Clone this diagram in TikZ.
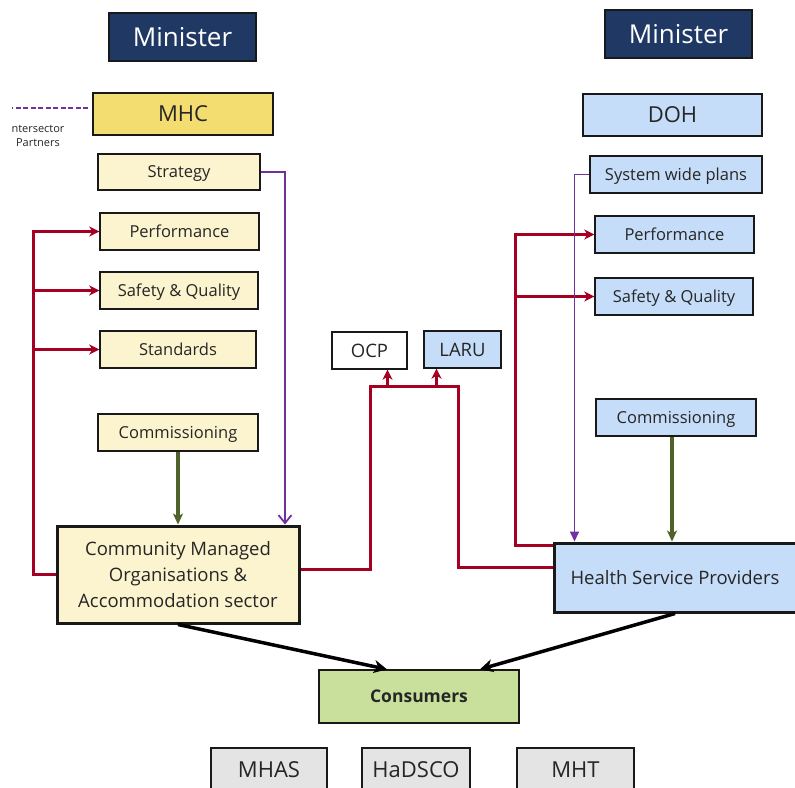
\documentclass[tikz,border=0pt]{standalone}
\usepackage{fontspec}
\setmainfont{Open Sans}
\usetikzlibrary{arrows.meta}
\definecolor{minnavy}{RGB}{32,56,100}
\definecolor{mhcgold}{RGB}{243,220,112}
\definecolor{mhccream}{RGB}{252,243,207}
\definecolor{dohblue}{RGB}{197,221,248}
\definecolor{consgreen}{RGB}{201,224,156}
\definecolor{advgray}{RGB}{228,228,228}
\definecolor{linkred}{RGB}{165,0,33}
\definecolor{linkpurple}{RGB}{112,48,160}
\definecolor{linkolive}{RGB}{79,98,40}
\newcommand{\fsz}[1]{\fontsize{#1}{#1}\selectfont}

\begin{document}
\begin{tikzpicture}[x=1pt,y=-1pt,
  fs/.style={font=\fsz{#1}, text height={0.72*#1pt}, text depth=0pt},
  box/.style={draw=black!90, line width=1.4pt, inner sep=0pt, text=black!85,
    minimum height=37pt, fs=16.5},
  bigbox/.style={box, line width=3pt, fs=18.5},
  minbox/.style={box, fill=minnavy, text=white, minimum width=147pt,
    minimum height=48pt, fs=26},
  redln/.style={draw=linkred, line width=3pt},
  redarr/.style={redln, -{Stealth[length=10pt,width=10pt,inset=3pt]}},
  purpln/.style={draw=linkpurple, line width=1.8pt},
  oliveln/.style={draw=linkolive, line width=3.2pt,
    -{Stealth[length=11pt,width=10pt,inset=3pt]}},
  blackln/.style={draw=black, line width=3.5pt,
    -{Stealth[length=13pt,width=13pt,inset=4pt]}}]
  \useasboundingbox (0,0) rectangle (795,787);
  \clip (0,0) rectangle (795,787);

  % left side
  \node[minbox] (minl) at (182.5,37) {Minister};
  \node[box, fill=mhcgold, minimum width=180pt, minimum height=42pt,
    fs=22] (mhc) at (183,114) {MHC};
  \node[box, fill=mhccream, minimum width=162pt, minimum height=36pt] (strat) at (179,172) {Strategy};
  \node[box, fill=mhccream, minimum width=159pt] (perfl) at (179.5,231.5) {Performance};
  \node[box, fill=mhccream, minimum width=158pt] (sql) at (179,290.5) {Safety \& Quality};
  \node[box, fill=mhccream, minimum width=156pt] (std) at (178,349.5) {Standards};
  \node[box, fill=mhccream, minimum width=160pt] (coml) at (178,432.5) {Commissioning};
  \node[bigbox, fill=mhccream, minimum width=242pt, minimum height=97pt,
    text height=, text depth=, font=\fontsize{18.5}{26}\selectfont,
    align=center] (cmo) at (178,574.5)
    {Community Managed\\Organisations \&\\Accommodation sector};

  \node[font=\fontsize{11}{14}\selectfont, text=black!85, align=center,
    inner sep=0pt] (isp) at (38,136) {ntersector\\Partners};
  \coordinate (ispend) at (12,108);

  % right side
  \node[minbox] (minr) at (678.5,34) {Minister};
  \node[box, fill=dohblue, minimum width=179pt, minimum height=42pt,
    fs=22] (doh) at (672.5,115) {DOH};
  \node[box, fill=dohblue, minimum width=172pt] (swp) at (676,174.5) {System wide plans};
  \node[box, fill=dohblue, minimum width=159pt] (perfr) at (674.5,234.5) {Performance};
  \node[box, fill=dohblue, minimum width=158pt] (sqr) at (674,296.5) {Safety \& Quality};
  \node[box, fill=dohblue, minimum width=160pt] (comr) at (676,417.5) {Commissioning};
  \node[bigbox, fill=dohblue, minimum width=242pt, minimum height=69pt] (hsp) at (675,577.5)
    {Health Service Providers};

  % middle
  \node[box, fill=white, minimum width=75pt, fs=18.5] (ocp) at (369.5,350.5) {OCP};
  \node[box, fill=dohblue, minimum width=77pt, fs=18.5] (laru) at (462.5,349.5) {LARU};
  \node[box, fill=consgreen, minimum width=200pt, minimum height=53pt,
    fs=17.5, font=\bfseries\fsz{17.5}] (cons) at (419,696.5) {Consumers};
  \node[box, fill=advgray, minimum width=116pt, minimum height=44pt, fs=22] (mhas) at (269,770) {MHAS};
  \node[box, fill=advgray, minimum width=108pt, minimum height=44pt, fs=22] (hadsco) at (416,770) {HaDSCO};
  \node[box, fill=advgray, minimum width=117pt, minimum height=44pt, fs=22] (mht) at (575.5,770) {MHT};

  \coordinate (lbus) at (33,0);
  \coordinate (rbus) at (515,0);
  \coordinate (jl) at (370,386);
  \coordinate (jr) at (458,386);

  \draw[draw=linkpurple, line width=1.6pt, dash pattern=on 5pt off 2.5pt]
    ([xshift=-4pt,yshift=6pt]mhc.west) -- (ispend);

  % red links
  \draw[redarr] (cmo.west) -| (lbus |- perfl.west) -- (perfl.west);
  \draw[redarr] (lbus |- sql.west) -- (sql.west);
  \draw[redarr] (lbus |- std.west) -- (std.west);
  \draw[redln] ([yshift=5pt]cmo.east) -| (jl) -- (jr) |- ([yshift=10pt]hsp.west);
  \draw[redarr] ([xshift=18pt]ocp.south |- jl) -- ([xshift=18pt]ocp.south);
  \draw[redarr] ([xshift=-26pt]laru.south |- jr) -- ([xshift=-26pt]laru.south);
  \draw[redarr] ([yshift=-4pt]hsp.north west) -| (rbus |- perfr.west) -- (perfr.west);
  \draw[redarr] (rbus |- sqr.west) -- (sqr.west);

  % purple links
  \draw[purpln, -{Straight Barb[length=8pt,width=13pt]}] (strat.east) -| ([xshift=107pt]cmo.north);
  \draw[purpln, -{Triangle[length=10pt,width=9pt]}] (swp.west) -| ([xshift=22pt]hsp.north west);

  % commissioning
  \draw[oliveln] (coml.south) -- (coml.south |- cmo.north);
  \draw[oliveln] ([xshift=-4pt]comr.south) -- ([xshift=-4pt]comr.south |- hsp.north);

  % to consumers
  \draw[blackln] (cmo.south) -- ([xshift=-32pt]cons.north);
  \draw[blackln] (hsp.south) -- ([xshift=61pt]cons.north);
\end{tikzpicture}
\end{document}
